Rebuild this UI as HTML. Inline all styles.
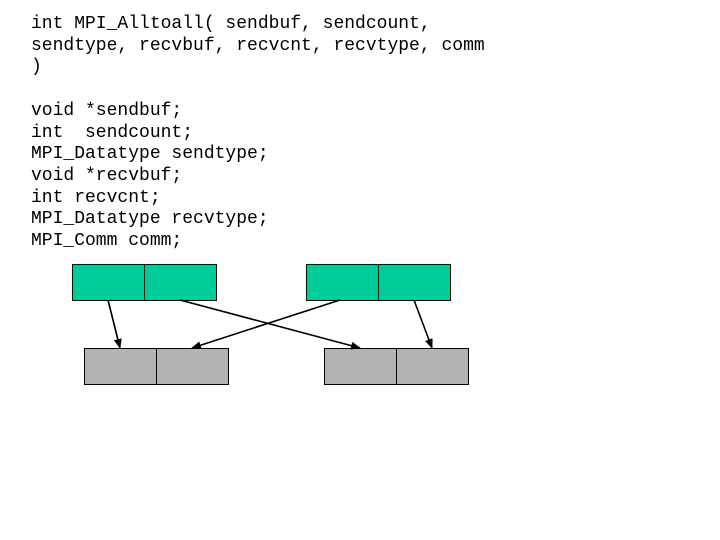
<!DOCTYPE html>
<html><head><style>
html,body{margin:0;padding:0;background:#fff;width:720px;height:540px;overflow:hidden}
pre{position:absolute;left:31px;top:14px;margin:0;font-family:"Liberation Mono",monospace;font-size:18px;line-height:21.7px;color:#000}
svg{position:absolute;left:0;top:0}
</style></head><body>
<pre>int MPI_Alltoall( sendbuf, sendcount,
sendtype, recvbuf, recvcnt, recvtype, comm
)

void *sendbuf;
int  sendcount;
MPI_Datatype sendtype;
void *recvbuf;
int recvcnt;
MPI_Datatype recvtype;
MPI_Comm comm;</pre>
<svg width="720" height="540">
<defs><marker id="a" markerWidth="10" markerHeight="8" refX="9" refY="4" orient="auto" markerUnits="userSpaceOnUse"><path d="M0,0 L10,4 L0,8 z" fill="#000"/></marker></defs>
<g stroke="#000" stroke-width="1">
<rect x="72.5" y="264.5" width="72" height="36" fill="#00cc99"/>
<rect x="144.5" y="264.5" width="72" height="36" fill="#00cc99"/>
<rect x="306.5" y="264.5" width="72" height="36" fill="#00cc99"/>
<rect x="378.5" y="264.5" width="72" height="36" fill="#00cc99"/>
<rect x="84.5" y="348.5" width="72" height="36" fill="#b3b3b3"/>
<rect x="156.5" y="348.5" width="72" height="36" fill="#b3b3b3"/>
<rect x="324.5" y="348.5" width="72" height="36" fill="#b3b3b3"/>
<rect x="396.5" y="348.5" width="72" height="36" fill="#b3b3b3"/>
</g>
<g stroke="#000" stroke-width="1.6" marker-end="url(#a)">
<line x1="108" y1="300" x2="120" y2="348"/>
<line x1="180" y1="300" x2="360" y2="348"/>
<line x1="340" y1="300" x2="192" y2="348"/>
<line x1="414" y1="300" x2="432" y2="348"/>
</g>
</svg>
</body></html>
